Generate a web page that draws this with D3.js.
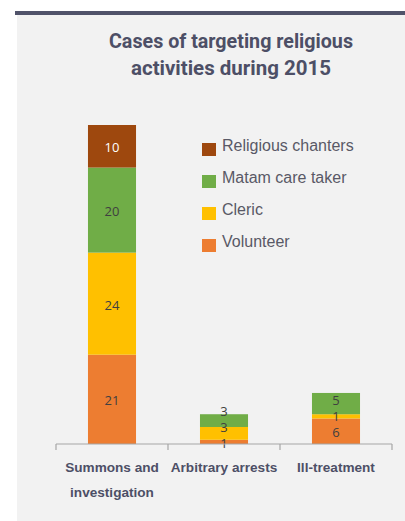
<!DOCTYPE html>
<html>
<head>
<meta charset="utf-8">
<script src="https://cdn.jsdelivr.net/npm/d3@7"></script>
<style>
  html, body { margin: 0; padding: 0; background: #ffffff; }
  svg { display: block; }
</style>
</head>
<body>
<svg id="chart" width="405" height="521"></svg>
<script>
// Categories along the x axis (each may wrap onto two lines)
const categories = ["Summons and investigation", "Arbitrary arrests", "Ill-treatment"];
const categoryLines = [["Summons and", "investigation"], ["Arbitrary arrests"], ["Ill-treatment"]];

// Stacked series, bottom to top
const seriesNames = ["Volunteer", "Cleric", "Matam care taker", "Religious chanters"];
const volunteer = [21, 1, 6];
const cleric = [24, 3, 1];
const matamCareTaker = [20, 3, 5];
const religiousChanters = [10, 0, 0];

const seriesColors = ["#ed7d31", "#ffc000", "#70ad47", "#9e480e"];
const labelColors = ["#404040", "#404040", "#404040", "#ffffff"];
const legendOrder = ["Religious chanters", "Matam care taker", "Cleric", "Volunteer"];

const titleLines = ["Cases of targeting religious", "activities during 2015"];
const titleWidths = [244, 200];

const svg = d3.select("#chart");

// Panel background and top rule
svg.append("rect").attr("x", 17).attr("y", 15).attr("width", 388).attr("height", 506).attr("fill", "#f2f2f2");
svg.append("rect").attr("x", 15).attr("y", 11).attr("width", 390).attr("height", 4).attr("fill", "#50536a");

// Title, set in a condensed bold face
svg.append("g").selectAll("text").data(titleLines).join("text")
  .attr("x", 231).attr("y", (d, i) => 47.5 + i * 27)
  .attr("text-anchor", "middle")
  .attr("font-family", "Roboto, 'DejaVu Sans', sans-serif")
  .attr("font-weight", "bold").attr("font-size", 20.5).attr("fill", "#4d4f66")
  .attr("textLength", (d, i) => titleWidths[i])
  .attr("lengthAdjust", "spacingAndGlyphs")
  .text(d => d);

// Scales
const x = d3.scaleBand().domain(categories).range([56, 392]).paddingInner(0.571).paddingOuter(0.2855);
const axisY = 444;
const y = d3.scaleLinear().domain([0, 75]).range([axisY, 125]);

const rows = categories.map((c, i) => ({
  category: c,
  "Volunteer": volunteer[i],
  "Cleric": cleric[i],
  "Matam care taker": matamCareTaker[i],
  "Religious chanters": religiousChanters[i]
}));
const stacked = d3.stack().keys(seriesNames)(rows);

// Bars
const layers = svg.append("g").selectAll("g").data(stacked).join("g")
  .attr("fill", (d, i) => seriesColors[i]);
layers.selectAll("rect").data(d => d.filter(s => s[1] - s[0] > 0)).join("rect")
  .attr("x", d => x(d.data.category))
  .attr("width", x.bandwidth())
  .attr("y", d => y(d[1]))
  .attr("height", d => y(d[0]) - y(d[1]));

// Value labels, stacked upward with a minimum gap so small segments stay readable
const minGap = 16;
categories.forEach((c, ci) => {
  let prev = Infinity;
  stacked.forEach((layer, si) => {
    const s = layer[ci];
    const v = s[1] - s[0];
    if (v <= 0) return;
    let cy = (y(s[0]) + y(s[1])) / 2 + 1.5;
    cy = Math.min(cy, prev - minGap);
    prev = cy;
    svg.append("text")
      .attr("x", x(c) + x.bandwidth() / 2)
      .attr("y", cy)
      .attr("dy", "0.35em")
      .attr("text-anchor", "middle")
      .attr("font-family", "'Open Sans', 'Liberation Sans', sans-serif")
      .attr("font-size", 13)
      .attr("fill", labelColors[si])
      .text(v);
  });
});

// Category axis: baseline with ticks on the band boundaries
const axis = svg.append("g");
axis.append("line").attr("x1", 56).attr("x2", 392).attr("y1", axisY).attr("y2", axisY)
  .attr("stroke", "#a6a6a6").attr("stroke-width", 1.2);
const boundaries = d3.range(categories.length + 1).map(i => 56 + i * x.step());
axis.selectAll("line.tick").data(boundaries).join("line").attr("class", "tick")
  .attr("x1", d => d).attr("x2", d => d).attr("y1", axisY).attr("y2", axisY + 6)
  .attr("stroke", "#a6a6a6").attr("stroke-width", 1.2);
axis.selectAll("text").data(categories).join("text")
  .attr("text-anchor", "middle")
  .attr("font-family", "'Liberation Sans', Arial, sans-serif")
  .attr("font-weight", "bold").attr("font-size", 13.6).attr("fill", "#4d4f66")
  .each(function (d, i) {
    d3.select(this).selectAll("tspan").data(categoryLines[i]).join("tspan")
      .attr("x", x(d) + x.bandwidth() / 2)
      .attr("y", (t, j) => 472 + j * 25)
      .text(t => t);
  });

// Legend
const legend = svg.append("g").selectAll("g").data(legendOrder).join("g")
  .attr("transform", (d, i) => `translate(202, ${143 + i * 32})`);
legend.append("rect").attr("width", 14).attr("height", 13)
  .attr("fill", d => seriesColors[seriesNames.indexOf(d)]);
legend.append("text").attr("x", 20).attr("y", 8)
  .attr("font-family", "'Liberation Sans', Arial, sans-serif")
  .attr("font-size", 16).attr("fill", "#595966")
  .text(d => d);
</script>
</body>
</html>
